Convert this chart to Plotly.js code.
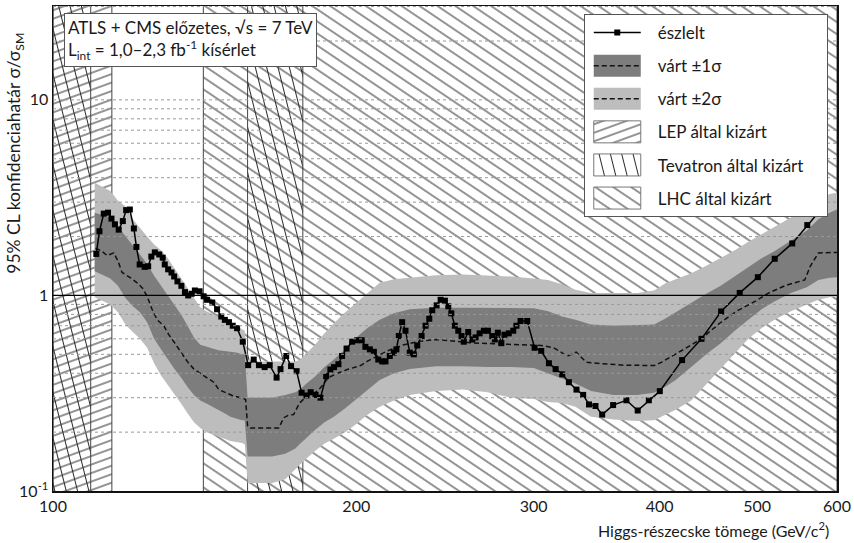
<!DOCTYPE html>
<html>
<head>
<meta charset="utf-8">
<script src="https://cdn.plot.ly/plotly-3.0.1.min.js"></script>
<style>html,body{margin:0;padding:0;background:#fff}#chart{width:854px;height:543px}</style>
</head>
<body>
<div id="chart"></div>
<script>
// ---- observed limit ----
var obsX = [110.4,111.2,112.3,113.4,114.3,115.2,116.2,117.3,118.2,119.2,120.3,121.0,121.9,123.3,124.3,125.2,126.2,127.5,128.5,129.1,130.1,131.1,131.9,132.9,134.1,135.2,136.2,137.3,138.3,139.8,141.1,142.2,143.9,145.5,146.9,148.1,149.5,150.8,152.3,154.3,156.2,158.2,160.1,162.2,164.1,166.7,168.2,170.4,172.3,174.5,176.5,178.5,180.2,182.2,184.3,186.7,188.5,190.1,192.0,193.6,195.6,198.1,200.4,202.5,204.2,206.3,208.2,210.3,212.2,213.8,215.9,217.9,219.2,220.4,222.1,223.8,226.0,228.1,229.9,232.2,234.3,236.3,237.9,240.3,242.5,244.9,246.8,248.5,250.5,252.5,254.4,255.7,258.3,260.7,262.7,265.1,267.7,270.2,272.9,274.5,276.4,278.6,280.6,283.4,286.3,288.4,291.1,295.6,300.6,305.2,310.6,315.4,320.2,325.1,330.8,335.9,340.4,345.5,350.8,359.7,370.8,380.5,390.3,400.2,421.1,440.2,460.4,480.4,500.7,520.4,541.7,560.6,580];
var obsY = [1.63,2.13,2.62,2.65,2.47,2.31,2.17,2.40,2.73,2.75,2.20,1.77,1.44,1.40,1.41,1.58,1.66,1.62,1.56,1.44,1.36,1.31,1.25,1.18,1.12,1.04,1.00,1.02,1.06,1.05,0.99,0.95,0.92,0.85,0.78,0.75,0.73,0.70,0.68,0.58,0.44,0.47,0.44,0.43,0.44,0.38,0.42,0.49,0.435,0.41,0.318,0.308,0.32,0.31,0.30,0.387,0.418,0.43,0.445,0.49,0.535,0.58,0.59,0.59,0.546,0.53,0.515,0.47,0.46,0.46,0.49,0.51,0.53,0.62,0.73,0.66,0.51,0.50,0.555,0.62,0.70,0.76,0.84,0.89,0.95,0.94,0.88,0.81,0.70,0.66,0.62,0.58,0.65,0.595,0.61,0.64,0.66,0.66,0.62,0.595,0.645,0.57,0.63,0.64,0.66,0.70,0.74,0.74,0.54,0.52,0.45,0.42,0.395,0.36,0.33,0.31,0.277,0.272,0.246,0.275,0.291,0.258,0.291,0.324,0.467,0.60,0.828,1.03,1.24,1.54,1.845,2.29,2.8];

// ---- expected median ----
var medX = [110.2,111.5,113.2,114.9,116.0,117.1,119.4,121.2,122.7,124.0,125.4,126.9,128.8,130.3,131.8,133.8,135.9,138.0,140.1,142.2,144.4,146.1,148.3,150.6,153.5,155.3,156.0,157.0,167.5,169.5,171.3,173.3,175.7,178.7,182.3,184.3,187.6,191.6,195.9,199.6,202.0,205.0,208.1,214.6,223.0,231.8,240.5,249.8,259.3,273.7,284.8,295.6,305.0,314.0,324.0,330.6,338.2,349.8,368.2,395.5,401.9,420.0,439.0,459.5,476.9,498.0,513.4,533.4,557.4,564.4,575.1,600];
var medY = [1.74,1.70,1.60,1.65,1.50,1.31,1.23,1.16,1.09,0.99,0.85,0.75,0.70,0.63,0.58,0.52,0.46,0.42,0.40,0.38,0.36,0.33,0.318,0.308,0.30,0.294,0.215,0.21,0.21,0.237,0.244,0.246,0.282,0.306,0.32,0.337,0.38,0.40,0.418,0.432,0.438,0.46,0.48,0.52,0.56,0.584,0.595,0.584,0.573,0.566,0.562,0.562,0.555,0.54,0.49,0.513,0.456,0.448,0.44,0.438,0.456,0.52,0.595,0.725,0.83,0.935,1.03,1.125,1.20,1.41,1.65,1.66];

// ---- expected bands ----
var bandX  = [110,112,114,116,118,120,122,124,126,128,130,132,134,136,138,140,142,144,146,148,150,152,154,155,156,160,165,170,174,176,178,182,186,190,195,200,205,211,218,226,240,255,270,285,300,310,320,330,342,360,380,395,405,415,430,445,460,475,490,505,520,540,560,575,590,600];
var plus2  = [3.77,3.60,3.42,3.05,2.86,2.45,2.20,2.00,1.82,1.70,1.55,1.38,1.22,1.10,0.98,0.87,0.83,0.80,0.77,0.75,0.73,0.70,0.67,0.66,0.47,0.46,0.46,0.46,0.46,0.47,0.50,0.56,0.64,0.72,0.82,0.92,1.02,1.16,1.21,1.23,1.27,1.28,1.27,1.25,1.22,1.20,1.14,1.07,1.03,1.03,1.03,1.06,1.15,1.21,1.30,1.42,1.55,1.70,1.88,2.05,2.25,2.50,2.80,3.05,3.30,3.35];
var plus1  = [2.65,2.58,2.50,2.25,2.00,1.80,1.62,1.45,1.26,1.12,1.01,0.90,0.80,0.70,0.61,0.56,0.545,0.535,0.525,0.52,0.515,0.51,0.50,0.50,0.30,0.30,0.30,0.31,0.32,0.33,0.35,0.385,0.43,0.47,0.53,0.61,0.68,0.75,0.81,0.85,0.865,0.865,0.865,0.865,0.86,0.83,0.78,0.75,0.71,0.70,0.705,0.71,0.76,0.82,0.92,1.02,1.12,1.25,1.40,1.55,1.68,1.90,2.15,2.45,2.65,2.75];
var minus1 = [1.33,1.27,1.22,1.12,0.97,0.88,0.82,0.73,0.60,0.53,0.47,0.42,0.38,0.34,0.31,0.29,0.28,0.27,0.26,0.25,0.24,0.235,0.23,0.23,0.15,0.15,0.15,0.155,0.165,0.175,0.185,0.205,0.225,0.24,0.265,0.295,0.33,0.37,0.40,0.42,0.435,0.435,0.43,0.43,0.425,0.40,0.375,0.355,0.325,0.31,0.31,0.318,0.34,0.37,0.43,0.50,0.57,0.66,0.75,0.85,0.93,1.03,1.10,1.20,1.23,1.24];
var minus2 = [0.98,0.94,0.90,0.82,0.71,0.65,0.60,0.54,0.45,0.39,0.35,0.31,0.28,0.25,0.225,0.21,0.20,0.195,0.19,0.185,0.18,0.178,0.175,0.175,0.11,0.11,0.11,0.115,0.13,0.138,0.145,0.16,0.175,0.185,0.20,0.22,0.245,0.27,0.29,0.31,0.325,0.33,0.32,0.30,0.295,0.285,0.282,0.27,0.24,0.232,0.228,0.23,0.245,0.26,0.29,0.35,0.42,0.50,0.60,0.68,0.75,0.83,0.90,0.95,0.98,0.99];

// ---- excluded mass ranges (GeV) ----
var lepRange = [100, 114.4];
var tevRanges = [[100, 109], [156, 177]];
var lhcRange = [141, 600];

// ---- labels ----
var xTicks = [100, 200, 300, 400, 500, 600];
var xTickText = ['100', '200', '300', '400', '500', '600'];
var yTicks = [0.1, 1, 10];
var yTickText = ['10<sup>-1</sup>', '1', '10'];
var legendNames = ['észlelt', 'várt ±1σ', 'várt ±2σ', 'LEP által kizárt', 'Tevatron által kizárt', 'LHC által kizárt'];
var gridVals = [0.2,0.3,0.4,0.5,0.6,0.7,0.8,0.9,2,3,4,5,6,7,8,9,10,20,30];

var Y_LO = 0.05, Y_HI = 60;
function rects(ranges) {
  var xs = [], ys = [];
  ranges.forEach(function (r, i) {
    if (i > 0) { xs.push(null); ys.push(null); }
    xs.push(r[0], r[1], r[1], r[0], r[0]);
    ys.push(Y_LO, Y_LO, Y_HI, Y_HI, Y_LO);
  });
  return {x: xs, y: ys};
}
var DARK = '#7d7d7d', LIGHT = '#bdbdbd';
function hatch(name, ranges, shape, size, rank) {
  var r = rects(ranges);
  return {x: r.x, y: r.y, name: name, type: 'scatter', mode: 'lines', fill: 'toself',
    fillcolor: 'rgba(0,0,0,0)', line: {color: '#444', width: 1},
    fillpattern: {shape: shape, size: size, solidity: 0.1, fgcolor: '#222', fgopacity: 1, bgcolor: 'rgba(0,0,0,0)', fillmode: 'overlay'},
    legendrank: rank, legendgroup: 'g' + rank, hoverinfo: 'skip'};
}

var data = [
  hatch(legendNames[3], [lepRange], '-', 8, 4),
  hatch(legendNames[4], tevRanges, '|', 11, 5),
  hatch(legendNames[5], [lhcRange], '-', 10, 6),
  {x: bandX, y: plus2, mode: 'lines', line: {width: 0, color: LIGHT}, showlegend: false, hoverinfo: 'skip'},
  {x: bandX, y: minus2, mode: 'lines', line: {width: 0, color: LIGHT}, fill: 'tonexty', fillcolor: LIGHT, showlegend: false, hoverinfo: 'skip'},
  {x: bandX, y: plus1, mode: 'lines', line: {width: 0, color: DARK}, showlegend: false, hoverinfo: 'skip'},
  {x: bandX, y: minus1, mode: 'lines', line: {width: 0, color: DARK}, fill: 'tonexty', fillcolor: DARK, showlegend: false, hoverinfo: 'skip'},
  {x: medX, y: medY, mode: 'lines', line: {color: '#111', width: 1.5, dash: '5px,3px'}, showlegend: false},
  {x: obsX, y: obsY, name: legendNames[0], mode: 'lines+markers', line: {color: '#000', width: 1.5},
    marker: {symbol: 'square', size: 6, color: '#000'}, legendrank: 1, legendgroup: 'g1'},
  {x: [null], y: [null], name: legendNames[1], mode: 'lines', fill: 'toself', fillcolor: DARK,
    line: {color: '#111', width: 1.5, dash: '5px,3px'}, legendrank: 2, legendgroup: 'g2'},
  {x: [null], y: [null], name: legendNames[2], mode: 'lines', fill: 'toself', fillcolor: LIGHT,
    line: {color: '#111', width: 1.5, dash: '5px,3px'}, legendrank: 3, legendgroup: 'g3'}
];

var shapes = gridVals.map(function (v) {
  return {type: 'line', xref: 'paper', x0: 0, x1: 1, yref: 'y', y0: v, y1: v, layer: 'above',
    line: {color: '#999', width: 1, dash: 'dot'}};
});
shapes.push({type: 'line', xref: 'paper', x0: 0, x1: 1, yref: 'y', y0: 1, y1: 1, layer: 'above',
  line: {color: '#000', width: 1.3}});

var FONT = 'Lato, "Open Sans", sans-serif';
var layout = {
  width: 854, height: 543,
  margin: {l: 53, r: 17, t: 6, b: 52},
  paper_bgcolor: '#fff', plot_bgcolor: '#fff',
  font: {family: FONT, size: 16, color: '#1a1a1a'},
  showlegend: true,
  legend: {x: 0.677, y: 0.9835, xanchor: 'left', yanchor: 'top', bgcolor: '#fff', bordercolor: '#555', borderwidth: 1,
    font: {family: FONT, size: 17, color: '#1a1a1a'}, itemwidth: 63, tracegroupgap: 8, traceorder: 'grouped'},
  xaxis: {type: 'log', range: [2, Math.log10(600)], tickvals: xTicks, ticktext: xTickText, showgrid: false,
    zeroline: false, showline: true, linecolor: '#111', linewidth: 1.5, mirror: true, ticks: '',
    tickfont: {size: 16}},
  yaxis: {type: 'log', range: [-1, 1.48], tickvals: yTicks, ticktext: yTickText, showgrid: false,
    zeroline: false, showline: true, linecolor: '#111', linewidth: 1.5, mirror: true, ticks: '',
    tickfont: {size: 16}},
  shapes: shapes,
  annotations: [
    {xref: 'paper', yref: 'paper', x: 0.0134, y: 0.986, xanchor: 'left', yanchor: 'top', align: 'left',
      text: 'ATLS + CMS előzetes, √s = 7 TeV<br>L<sub>int</sub> = 1,0–2,3 fb<sup>-1</sup> kísérlet',
      showarrow: false, bgcolor: '#fff', bordercolor: '#555', borderwidth: 1, borderpad: 3,
      font: {family: FONT, size: 17, color: '#1a1a1a'}},
    {xref: 'paper', yref: 'paper', x: -0.0485, y: 0.95, xanchor: 'center', yanchor: 'top', textangle: -90,
      text: '95% CL konfidenciahatár σ/σ<sub>SM</sub>', showarrow: false,
      font: {family: FONT, size: 17.5, color: '#1a1a1a'}},
    {xref: 'paper', yref: 'paper', x: 0.992, y: -0.08, xanchor: 'right', yanchor: 'middle',
      text: 'Higgs-részecske tömege (GeV/c<sup>2</sup>)', showarrow: false,
      font: {family: FONT, size: 16, color: '#1a1a1a'}}
  ]
};

Plotly.newPlot('chart', data, layout, {staticPlot: true}).then(function (gd) {
  var rot = {'8': 'rotate(-20)', '11': 'rotate(-14)', '10': 'rotate(34)'};
  gd.querySelectorAll('pattern').forEach(function (p) {
    var w = String(parseFloat(p.getAttribute('width')));
    if (rot[w]) p.setAttribute('patternTransform', rot[w]);
    p.querySelectorAll('path').forEach(function (pa) {
      pa.style.strokeWidth = '1px'; pa.style.strokeOpacity = '1'; pa.style.stroke = '#2a2a2a';
    });
  });
  var BOX = 'M9,-11h47v22h-47z';
  gd.querySelectorAll('.legend .traces').forEach(function (t) {
    var fill = t.querySelector('.legendfill path');
    if (fill) fill.setAttribute('d', BOX);
    var txt = t.querySelector('text.legendtext');
    var name = txt ? txt.textContent : '';
    if (name.indexOf('kizárt') >= 0) {
      var ln = t.querySelector('.legendlines path');
      if (ln) { ln.setAttribute('d', BOX); ln.style.fill = 'none'; ln.style.stroke = '#777'; }
    } else {
      t.querySelectorAll('.legendlines path').forEach(function (ln) { ln.setAttribute('d', 'M9,0h47'); });
      t.querySelectorAll('.legendpoints path').forEach(function (pt) { pt.setAttribute('transform', 'translate(32.5,0)'); });
    }
  });
  var bg = gd.querySelector('.legend rect.bg');
  if (bg) {
    var w = parseFloat(bg.getAttribute('width'));
    if (w < 243) bg.setAttribute('width', 243);
  }
});
</script>
</body>
</html>
